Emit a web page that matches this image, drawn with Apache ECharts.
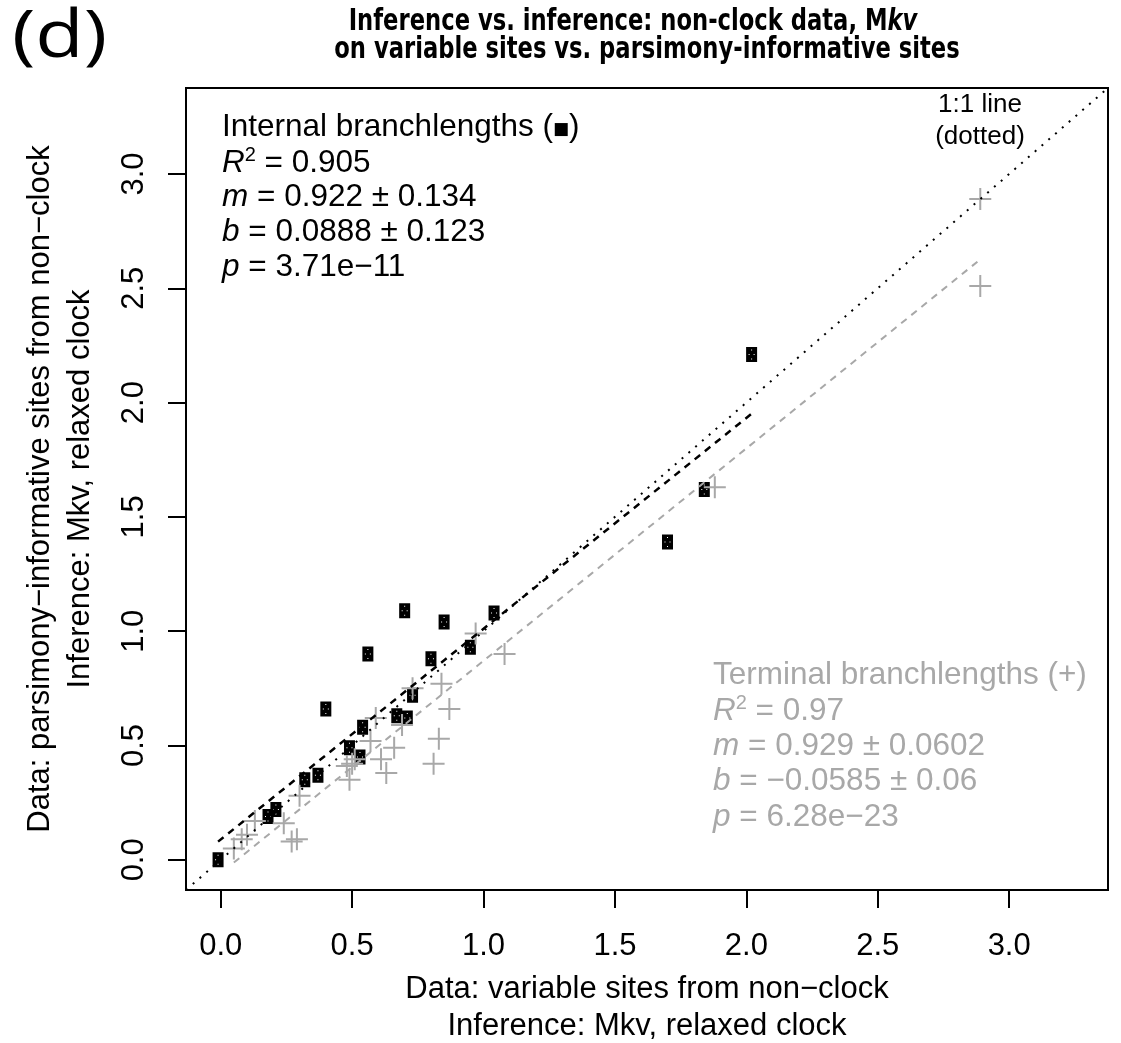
<!DOCTYPE html>
<html>
<head>
<meta charset="utf-8">
<script src="https://cdn.jsdelivr.net/npm/echarts@6/dist/echarts.min.js"></script>
<style>
html,body{margin:0;padding:0;background:#fff;}
#chart{width:1121px;height:1043px;}
</style>
</head>
<body>
<div id="chart"></div>
<script>
// ---- data ----
const internalX = [-0.01, 0.18, 0.21, 0.32, 0.37, 0.40, 0.49, 0.53, 0.54, 0.56, 0.67, 0.71, 0.70, 0.73, 0.80, 0.85, 0.95, 1.04, 1.70, 1.84, 2.02];
const internalY = [0.00, 0.19, 0.22, 0.35, 0.37, 0.66, 0.49, 0.45, 0.58, 0.90, 0.63, 0.62, 1.09, 0.72, 0.88, 1.04, 0.93, 1.08, 1.39, 1.62, 2.21];
const terminalX = [0.05, 0.08, 0.10, 0.13, 0.24, 0.27, 0.29, 0.30, 0.48, 0.49, 0.50, 0.51, 0.57, 0.59, 0.61, 0.63, 0.66, 0.69, 0.73, 0.81, 0.83, 0.84, 0.87, 0.97, 1.08, 1.88, 2.89, 2.89];
const terminalY = [0.05, 0.09, 0.11, 0.17, 0.16, 0.08, 0.09, 0.28, 0.41, 0.35, 0.42, 0.44, 0.52, 0.62, 0.44, 0.38, 0.49, 0.59, 0.75, 0.42, 0.53, 0.77, 0.66, 0.99, 0.90, 1.63, 2.89, 2.51];
const internalFit = {slope: 0.922, intercept: 0.0888};
const terminalFit = {slope: 0.929, intercept: -0.0585};
const tickValues = [0, 0.5, 1.0, 1.5, 2.0, 2.5, 3.0];
const internalStats = ['0.905', '0.922 \u00b1 0.134', '0.0888 \u00b1 0.123', '3.71e\u221211'];
const terminalStats = ['0.97', '0.929 \u00b1 0.0602', '\u22120.0585 \u00b1 0.06', '6.28e\u221223'];

// ---- layout / style ----
const AX_MIN = -0.132, AX_MAX = 3.376;
const F = '"Liberation Sans", Arial, Helvetica, sans-serif';
const TF = '"Liberation Sans Narrow", "DejaVu Sans Condensed", "DejaVu Sans", sans-serif';
const GREY = '#a8a8a8';
const SQUARE = 'path://M0,0H11V15H0Z M5,2.5V3.5H6V2.5Z M2.5,7V8H3.5V7Z M7.5,7V8H8.5V7Z M5,11.5V12.5H6V11.5Z';
const PLUS = 'path://M10,0H12V10H22V12H12V22H10V12H0V10H10Z';

function zip(a, b) { return a.map((v, i) => [v, b[i]]); }
function fitLine(xs, fit) {
  const lo = Math.min(...xs), hi = Math.max(...xs);
  return [[lo, fit.slope * lo + fit.intercept], [hi, fit.slope * hi + fit.intercept]];
}

function statBlock(x, y0, dy, title, stats, color) {
  const rich = {
    n: {fontFamily: F, fontSize: 31.5, fill: color, verticalAlign: 'bottom'},
    i: {fontFamily: F, fontSize: 31.5, fontStyle: 'italic', fill: color, verticalAlign: 'bottom'},
    sup: {fontFamily: F, fontSize: 20, fill: color, verticalAlign: 'bottom', padding: [0, 0, 14, 0]},
    sq: {fontFamily: '"DejaVu Sans"', fontSize: 17, fill: color, verticalAlign: 'bottom', padding: [0, 0, 5, 0]}
  };
  const lines = [
    title,
    '{i|R}{sup|2}{n| = ' + stats[0] + '}',
    '{i|m}{n| = ' + stats[1] + '}',
    '{i|b}{n| = ' + stats[2] + '}',
    '{i|p}{n| = ' + stats[3] + '}'
  ];
  return lines.map((t, k) => ({
    type: 'text', x: x, y: y0 + k * dy, z: 10,
    style: {text: t, rich: rich, fontFamily: F, fontSize: 31.5, fill: color, verticalAlign: 'middle', align: 'left'}
  }));
}

const axisBase = {
  type: 'value', min: AX_MIN, max: AX_MAX,
  splitLine: {show: false},
  axisLine: {show: true, onZero: false, lineStyle: {color: '#000', width: 2}},
  axisTick: {show: true, inside: false, customValues: tickValues, length: 18, lineStyle: {color: '#000', width: 2}}
};

const chart = echarts.init(document.getElementById('chart'), null, {renderer: 'canvas'});
const option = {
  animation: false,
  backgroundColor: '#fff',
  grid: {left: 186, right: 13, top: 88, bottom: 153, containLabel: false, outerBoundsMode: 'none',
         show: true, borderColor: '#000', borderWidth: 2, backgroundColor: 'transparent'},
  xAxis: Object.assign({}, axisBase, {
    axisLabel: {customValues: tickValues, formatter: v => v.toFixed(1), fontFamily: F, fontSize: 31, color: '#000', margin: 41},
    name: 'Data: variable sites from non\u2212clock\nInference: Mkv, relaxed clock',
    nameLocation: 'middle', nameGap: 81,
    nameTextStyle: {fontFamily: F, fontSize: 31, color: '#000', lineHeight: 37}
  }),
  yAxis: Object.assign({}, axisBase, {
    axisLabel: {customValues: tickValues, formatter: v => v.toFixed(1), fontFamily: F, fontSize: 31, color: '#000', margin: 36, rotate: 90},
    name: 'Data: parsimony\u2212informative sites from non\u2212clock\nInference: Mkv, relaxed clock',
    nameLocation: 'middle', nameGap: 86,
    nameTextStyle: {fontFamily: F, fontSize: 31, color: '#000', lineHeight: 40}
  }),
  series: [
    {
      type: 'scatter', name: 'Internal branchlengths', data: zip(internalX, internalY),
      symbol: SQUARE, symbolSize: [11, 15], itemStyle: {color: '#000', opacity: 1}, z: 2
    },
    {
      type: 'scatter', name: 'Terminal branchlengths', data: zip(terminalX, terminalY),
      symbol: PLUS, symbolSize: 22, itemStyle: {color: GREY, opacity: 1}, z: 3
    },
    {
      type: 'line', name: '1:1 line', data: [[AX_MIN, AX_MIN], [AX_MAX, AX_MAX]],
      showSymbol: false, symbol: 'none', lineStyle: {color: '#000', width: 2, type: [2, 7]}, z: 4
    },
    {
      type: 'line', name: 'Internal fit', data: fitLine(internalX, internalFit),
      showSymbol: false, symbol: 'none', lineStyle: {color: '#000', width: 2.5, type: [7, 6]}, z: 5
    },
    {
      type: 'line', name: 'Terminal fit', data: fitLine(terminalX, terminalFit),
      showSymbol: false, symbol: 'none', lineStyle: {color: GREY, width: 2, type: [7, 6]}, z: 5
    }
  ],
  graphic: [
    {type: 'text', x: 12, y: 38, scaleX: 1.2, style: {text: '(d)', fontFamily: '"Open Sans", "Noto Sans", sans-serif', fontSize: 66, fill: '#000', verticalAlign: 'middle'}},
    {type: 'text', x: 633, y: 22, scaleX: 0.84, style: {
      text: 'Inference vs. inference: non-clock data, M{it|kv}',
      fontFamily: TF, fontWeight: 'bold', fontSize: 30, fill: '#000',
      align: 'center', verticalAlign: 'middle',
      rich: {it: {fontFamily: TF, fontWeight: 'bold', fontStyle: 'italic', fontSize: 30, fill: '#000'}}
    }},
    {type: 'text', x: 647, y: 50, scaleX: 0.84, style: {
      text: 'on variable sites vs. parsimony-informative sites',
      fontFamily: TF, fontWeight: 'bold', fontSize: 30, fill: '#000',
      align: 'center', verticalAlign: 'middle'
    }},
    {type: 'text', x: 980, y: 105, style: {text: '1:1 line', fontFamily: F, fontSize: 26, fill: '#000', align: 'center', verticalAlign: 'middle'}},
    {type: 'text', x: 980, y: 137, style: {text: '(dotted)', fontFamily: F, fontSize: 26, fill: '#000', align: 'center', verticalAlign: 'middle'}}
  ]
  .concat(statBlock(222, 127, 35, '{n|Internal branchlengths (}{sq|\u25a0}{n|)}', internalStats, '#000'))
  .concat(statBlock(713, 675, 35.5, '{n|Terminal branchlengths (+)}', terminalStats, GREY))
};
chart.setOption(option);
</script>
</body>
</html>
